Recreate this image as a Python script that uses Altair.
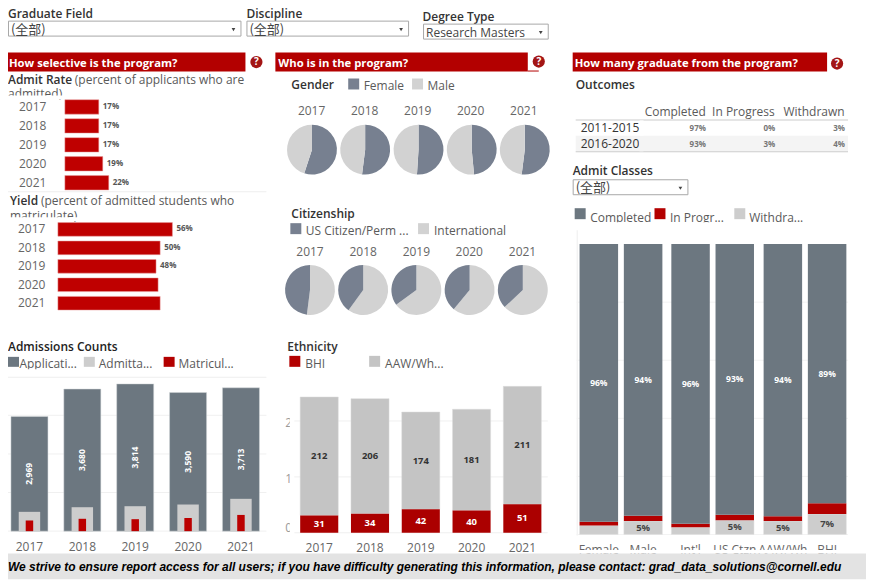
import altair as alt
import pandas as pd

FONT = "Open Sans"
CJK = "Noto Sans CJK SC"
RED = "#b30000"
SLATE = "#6c7780"
PIE_DARK = "#778090"
PIE_LIGHT = "#d2d2d2"
GRAY = "#c4c4c4"
LIGHT = "#cdcdcd"
TXT = "#5a5a5a"
HEAD = "#333333"

years = ["2017", "2018", "2019", "2020", "2021"]
admit_rate = [17, 17, 17, 19, 22]
yield_rate = [56, 50, 48, 49, 50]
yield_labels = ["56%", "50%", "48%", "", ""]
applications = [2969, 3680, 3814, 3590, 3713]
admitted = [500, 620, 646, 690, 837]
matriculated = [276, 320, 310, 340, 420]
female = [55, 52, 51, 48.5, 52]
international = [52, 60, 65, 61, 63]
bhi = [31, 34, 42, 40, 51]
aaw = [212, 206, 174, 181, 211]
groups = ["Female", "Male", "Int'l", "US Ctzn", "AAW/Wh", "BHI"]
completed = [95.6, 93.6, 96.3, 93.2, 93.7, 89.3]
in_progress = [1.3, 1.8, 1.2, 1.9, 1.7, 3.7]
withdrawn = [3.1, 4.6, 2.5, 4.9, 4.6, 7.0]
cohorts = ["2011-2015", "2016-2020"]
out_headers = ["Completed", "In Progress", "Withdrawn"]
out_values = [["97%", "0%", "3%"], ["93%", "3%", "4%"]]

ONE = alt.Data(values=[{"k": 0}])
layers = []


def T(s, x, y, size=12, color=TXT, weight="normal", align="left", font=FONT, style="normal", baseline="alphabetic"):
    layers.append(alt.Chart(ONE).mark_text(fontSize=size, color=color, fontWeight=weight, align=align, font=font,
                                           fontStyle=style, baseline=baseline)
                  .encode(x=alt.value(x - 8), y=alt.value(y - 8), text=alt.value(s)))


def R(x0, x1, y0, y1, fill, stroke=None):
    kw = {"fill": fill}
    if stroke:
        kw.update(stroke=stroke, strokeWidth=1)
    layers.append(alt.Chart(ONE).mark_rect(**kw).encode(x=alt.value(x0 - 8), x2=alt.value(x1 - 8),
                                                        y=alt.value(y0 - 8), y2=alt.value(y1 - 8)))


def header(x0, x1, y0, y1, s, tx, cx, cy):
    R(x0, x1, y0, y1, RED)
    T(s, tx, y0 + 14, size=11.3, color="white", weight="bold")
    layers.append(alt.Chart(ONE).mark_circle(size=150, color="#a31515", opacity=1)
                  .encode(x=alt.value(cx - 8), y=alt.value(cy - 8)))
    T("?", cx, cy, size=10, color="white", weight="bold", align="center", baseline="middle")


def dropdown(x0, x1, y0, y1, s, font, ax, size=12):
    R(x0, x1, y0, y1, "white", "#a8a8a8")
    T(s, x0 + 2.5, y1 - 2.5, size=size, color="#444", font=font)
    layers.append(alt.Chart(ONE).mark_point(shape="triangle-down", size=14, filled=True, color="#444", opacity=1)
                  .encode(x=alt.value(ax - 8), y=alt.value((y0 + y1) / 2 + 1 - 8)))


def yscale_px(lo, hi, y0, y1):
    return alt.Scale(domain=[lo, hi], range=[y0 - 8, y1 - 8], nice=False, zero=False)


def band(dom, x0, x1, inner, outer):
    return alt.Scale(domain=dom, range=[x0 - 8, x1 - 8], paddingInner=inner, paddingOuter=outer)


# ---------- filters
T("Graduate Field", 8, 17, weight=600, color=HEAD)
dropdown(8.5, 241.5, 20.5, 35.5, "(全部)", CJK, 234, size=13)
T("Discipline", 247, 17, weight=600, color=HEAD)
dropdown(247.5, 409.5, 20.5, 35.5, "(全部)", CJK, 402, size=13)
T("Degree Type", 423.5, 20, weight=600, color=HEAD)
dropdown(424.5, 549.5, 23.5, 38.5, "Research Masters", FONT, 542)

# ---------- section headers
header(8, 246, 52, 71, "How selective is the program?", 9, 257, 61.5)
header(276, 529, 52, 71, "Who is in the program?", 279, 540, 61)
R(529, 540, 70, 71, RED)
header(574, 829, 52, 71, "How many graduate from the program?", 576, 839, 63)


# ---------- horizontal rate bars
def hbars(values, labels, x0, xmax, y0, y1, inner, label_x):
    df = pd.DataFrame({"year": years, "v": values, "lab": labels})
    x = alt.X("v:Q", axis=None, scale=yscale_px(0, 100, x0, xmax))
    y = alt.Y("year:N", axis=None, sort=years, scale=band(years, y0, y1, inner, inner / 2))
    layers.append(alt.Chart(df).mark_bar(color="#bf0000", stroke="#e8a0a0", strokeWidth=0.5, orient="horizontal")
                  .encode(x=x, y=y))
    layers.append(alt.Chart(df).mark_text(align="left", dx=4, fontSize=8, fontWeight="bold", color="#555", font=FONT)
                  .encode(x=x, y=y, text="lab:N"))
    layers.append(alt.Chart(df).mark_text(align="left", fontSize=12, color="#666", font=FONT)
                  .encode(x=alt.value(label_x - 8), y=y, text="year:N"))


T("Admit Rate", 8, 84, weight=600, color=HEAD)
T("(percent of applicants who are", 75, 84, color=TXT)
T("admitted)", 8, 98, color=TXT)
R(5, 250, 95, 99, "white")
hbars(admit_rate, [f"{v}%" for v in admit_rate], 65, 265, 97, 192, 0.24, 19)
R(8, 267, 191, 192, "#eeeeee")

T("Yield", 10, 205, weight=600, color=HEAD)
T("(percent of admitted students who", 41, 205, color=TXT)
T("matriculate)", 10, 220, color=TXT)
R(5, 250, 217, 221, "white")
hbars(yield_rate, yield_labels, 58, 263, 220, 312.5, 0.26, 18)

# ---------- admissions counts
T("Admissions Counts", 8, 351, weight=600, color="#222")
for sx, lx, c, s in [(8, 19.5, SLATE, "Applicati..."), (84, 99, LIGHT, "Admitta..."), (164, 179, RED, "Matricul...")]:
    R(sx, sx + 11, 357, 367, c)
    T(s, lx, 368, color=TXT)
R(8, 267, 369.5, 376, "white")
R(8, 267, 377, 378, "#eeeeee")

adm = pd.DataFrame({"year": years, "a": applications, "b": admitted, "c": matriculated})
adm["mid"] = adm["a"] / 2
adm["lab"] = [f"{v:,}" for v in applications]
ax = alt.X("year:N", axis=None, sort=years, scale=band(years, 3, 268, 0.3, 0.15))
ady = yscale_px(0, 4000, 531.7, 376.9)
grid = pd.DataFrame({"g": [0, 1000, 2000, 3000]})
layers.append(alt.Chart(grid).mark_rule(color="#f0f0f0", strokeWidth=1)
              .encode(y=alt.Y("g:Q", axis=None, scale=ady), x=alt.value(0), x2=alt.value(259)))
layers.append(alt.Chart(adm).mark_bar(color=SLATE, stroke="#d5d8da", strokeWidth=0.5)
              .encode(x=ax, y=alt.Y("a:Q", axis=None, scale=ady)))
layers.append(alt.Chart(adm).mark_bar(color=LIGHT, size=21.5)
              .encode(x=ax, y=alt.Y("b:Q", axis=None, scale=ady)))
layers.append(alt.Chart(adm).mark_bar(color="#bb0000", size=7.5)
              .encode(x=ax, y=alt.Y("c:Q", axis=None, scale=ady)))
layers.append(alt.Chart(adm).mark_text(angle=270, fontSize=8.5, fontWeight="bold", color="white", font=FONT,
                                       baseline="middle", align="center")
              .encode(x=ax, y=alt.Y("mid:Q", axis=None, scale=ady), text="lab:N"))
layers.append(alt.Chart(adm).mark_text(fontSize=12, color="#666", font=FONT)
              .encode(x=ax, y=alt.value(548 - 8), text="year:N"))


# ---------- pies
def pies(first_vals, first_color, second_color, names, centers, cy, year_y, year_centers):
    for yr, v, cx, yc in zip(years, first_vals, centers, year_centers):
        df = pd.DataFrame({"name": names, "t0": [0, v], "t1": [v, 100]})
        layers.append(alt.Chart(df).mark_arc(radius=25).encode(
            x=alt.value(cx - 8), y=alt.value(cy - 8),
            theta=alt.Theta("t0:Q", scale=alt.Scale(domain=[0, 100], range=[0, 6.2832])),
            theta2="t1:Q",
            color=alt.Color("name:N", legend=None,
                            scale=alt.Scale(domain=names, range=[first_color, second_color]))))
        T(yr, yc, year_y, color="#666", align="center")


T("Gender", 292, 89, weight=600, color=HEAD)
R(349, 360, 78, 89, PIE_DARK)
T("Female", 364.5, 90)
R(413, 424, 78, 89, PIE_LIGHT)
T("Male", 428.5, 90)
pies(female, PIE_DARK, PIE_LIGHT, ["Female", "Male"], [312.7, 366, 419.5, 472.8, 526], 149.3, 114.5,
     [312.3, 365.5, 418.7, 471.7, 525])

T("Citizenship", 292, 218, weight=600, color=HEAD)
R(291, 302, 223, 234, PIE_DARK)
T("US Citizen/Perm ...", 306.5, 235)
R(419, 430, 223, 234, PIE_LIGHT)
T("International", 435, 235)
pies(international, PIE_LIGHT, PIE_DARK, ["International", "US Citizen/Perm"], [310.7, 364, 417.3, 470.7, 524], 290,
     256, [310.7, 364, 417.3, 470.3, 523.7])

# ---------- ethnicity
T("Ethnicity", 288, 351, weight=600, color=HEAD)
R(290, 301, 356, 367, RED)
T("BHI", 306, 368)
R(370, 381, 356, 367, GRAY)
T("AAW/Wh...", 386, 368)
eth = pd.DataFrame({"year": years, "b": bhi, "a": aaw})
eth["tot"] = eth["a"] + eth["b"]
eth["mid_b"] = eth["b"] / 2
eth["mid_a"] = eth["b"] + eth["a"] / 2
ex = alt.X("year:N", axis=None, sort=years, scale=band(years, 294.5, 549, 0.25, 0.125))
ey = yscale_px(0, 300, 533.3, 365.3)
T("2", 286, 427.5, size=12, color="#999")
T("1", 286, 483.5, size=12, color="#999")
T("0", 286, 532.5, size=12, color="#999")
R(290.5, 296, 415, 540, "white")
g2 = pd.DataFrame({"g": [0, 100, 200]})
layers.append(alt.Chart(g2).mark_rule(color="#f0f0f0", strokeWidth=1)
              .encode(y=alt.Y("g:Q", axis=None, scale=ey), x=alt.value(287), x2=alt.value(541)))
layers.append(alt.Chart(eth).mark_bar(color=GRAY, stroke="#dddddd", strokeWidth=0.5)
              .encode(x=ex, y=alt.Y("b:Q", axis=None, scale=ey), y2="tot:Q"))
layers.append(alt.Chart(eth).mark_bar(color="#ab0000")
              .encode(x=ex, y=alt.Y("b:Q", axis=None, scale=ey)))
layers.append(alt.Chart(eth).mark_text(fontSize=9.5, fontWeight="bold", color="#333", font=FONT, baseline="middle")
              .encode(x=ex, y=alt.Y("mid_a:Q", axis=None, scale=ey), text="a:Q"))
layers.append(alt.Chart(eth).mark_text(fontSize=9.5, fontWeight="bold", color="white", font=FONT, baseline="middle")
              .encode(x=ex, y=alt.Y("mid_b:Q", axis=None, scale=ey), text="b:Q"))
layers.append(alt.Chart(eth).mark_text(fontSize=12, color="#666", font=FONT)
              .encode(x=ex, y=alt.value(549 - 8), text="year:N"))

# ---------- outcomes table
T("Outcomes", 577, 89, weight=600, color=HEAD)
for s, r in zip(out_headers, [707.5, 776.5, 846.5]):
    T(s, r, 116, align="right", color=TXT)
R(577, 850, 119, 120, "#cccccc")
R(577, 850, 135.5, 151, "#f4f4f4")
R(577, 850, 151, 152, "#cccccc")
for c, yb, row in zip(cohorts, [131.5, 148], out_values):
    T(c, 582, yb, color="#333")
    for s, r in zip(row, [707.5, 777, 847]):
        T(s, r, yb - 1, size=8, weight="bold", color="#777", align="right")
R(641, 645, 120, 135.5, "white")
R(641, 645, 135.5, 151, "#f4f4f4")

T("Admit Classes", 574, 175, weight=600, color=HEAD)
dropdown(574.5, 689.5, 179.5, 194.5, "(全部)", CJK, 682, size=13)

for sx, lx, c, s in [(576, 591.5, SLATE, "Completed"), (656, 671.5, RED, "In Progr..."), (736, 751, LIGHT, "Withdra...")]:
    R(sx, sx + 11, 208, 219, c)
    T(s, lx, 221.5, color=TXT)
R(576, 850, 222, 226, "white")

# ---------- outcome bars
R(578, 579, 230, 536, "#eeeeee")
oy = yscale_px(0, 100, 535, 244)
g3 = pd.DataFrame({"g": [0, 20, 40, 60, 80]})
layers.append(alt.Chart(g3).mark_rule(color="#f3f3f3", strokeWidth=1)
              .encode(y=alt.Y("g:Q", axis=None, scale=oy), x=alt.value(570), x2=alt.value(842)))
out = pd.DataFrame({"group": groups, "c": completed, "i": in_progress, "w": withdrawn})
out["w_top"] = out["w"]
out["i_top"] = out["w"] + out["i"]
out["c_top"] = out["w"] + out["i"] + out["c"]
out["c_mid"] = out["i_top"] + out["c"] / 2
out["w_mid"] = out["w"] / 2
out["c_lab"] = [f"{round(v)}%" for v in completed]
out["w_lab"] = [f"{round(v)}%" if v >= 4.5 else "" for v in withdrawn]
for (a, b), x0, x1 in [((0, 2), 578, 666.8), ((2, 4), 670, 758.6), ((4, 6), 762.5, 851.2)]:
    d = out.iloc[a:b]
    gx = alt.X("group:N", axis=None, sort=groups[a:b], scale=band(groups[a:b], x0, x1, 0.13, 0.065))
    layers.append(alt.Chart(d).mark_bar(color=LIGHT, stroke="#e2e2e2", strokeWidth=0.5)
                  .encode(x=gx, y=alt.Y("w_top:Q", axis=None, scale=oy)))
    layers.append(alt.Chart(d).mark_bar(color=RED)
                  .encode(x=gx, y=alt.Y("w_top:Q", axis=None, scale=oy), y2="i_top:Q"))
    layers.append(alt.Chart(d).mark_bar(color=SLATE)
                  .encode(x=gx, y=alt.Y("i_top:Q", axis=None, scale=oy), y2="c_top:Q"))
    layers.append(alt.Chart(d).mark_text(fontSize=8.5, fontWeight="bold", color="white", font=FONT, baseline="middle")
                  .encode(x=gx, y=alt.Y("c_mid:Q", axis=None, scale=oy), text="c_lab:N"))
    layers.append(alt.Chart(d).mark_text(fontSize=9.5, fontWeight="bold", color="#444", font=FONT, baseline="middle")
                  .encode(x=gx, y=alt.Y("w_mid:Q", axis=None, scale=oy), text="w_lab:N"))
    layers.append(alt.Chart(d).mark_text(fontSize=12, color="#666", font=FONT)
                  .encode(x=gx, y=alt.value(551 - 8), text="group:N"))
R(578, 852, 550.5, 554, "white")

# ---------- footer
R(8, 868, 554, 580, "#e3e3e3")
T("We strive to ensure report access for all users; if you have difficulty generating this information, "
  "please contact: grad_data_solutions@cornell.edu", 8, 571.5, size=12, color="black", weight="bold",
  font="Liberation Sans", style="italic")

chart = alt.layer(*layers).resolve_scale(x="independent", y="independent", color="independent",
                                         theta="independent").properties(
    width=860, height=572, padding=0, autosize=alt.AutoSizeParams(type="none"), background="white"
).configure_view(stroke=None)

chart.save("out.html", embed_options={"renderer": "svg", "actions": False})
